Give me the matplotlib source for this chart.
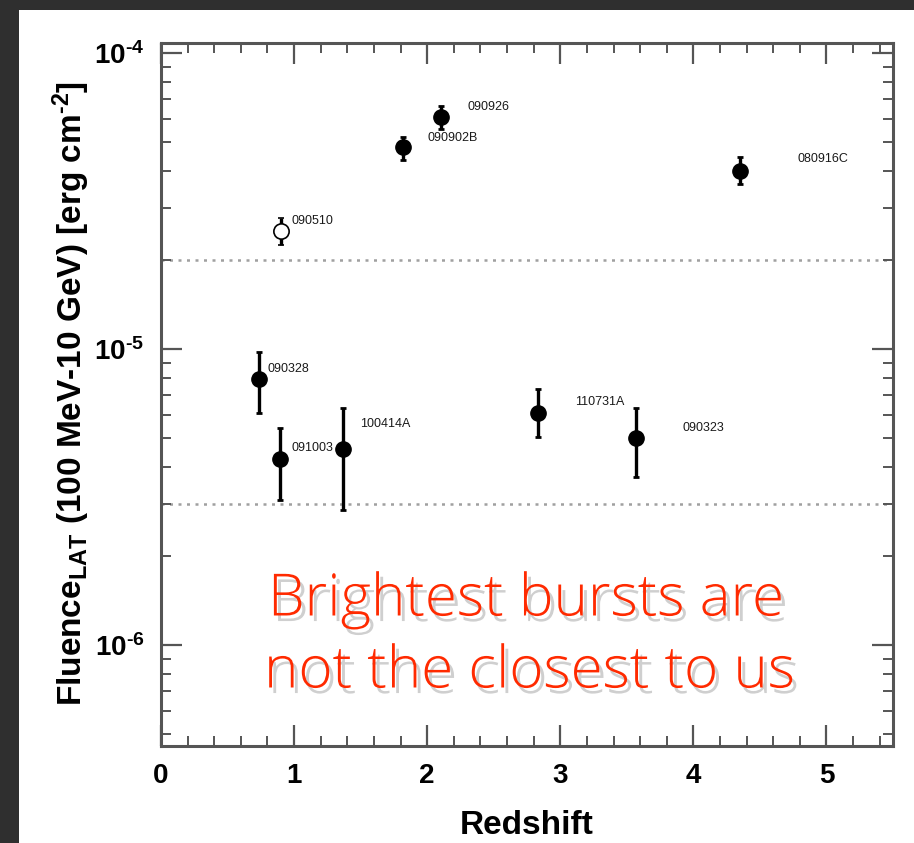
import numpy as np
import matplotlib
matplotlib.use('Agg')
import matplotlib.pyplot as plt
import matplotlib.patheffects as pe
from matplotlib.patches import Rectangle
from matplotlib.ticker import MultipleLocator, LogLocator, NullFormatter

plt.rcParams['font.family'] = ['Liberation Sans', 'DejaVu Sans']
plt.rcParams['font.weight'] = 'bold'
plt.rcParams['mathtext.fontset'] = 'custom'
plt.rcParams['mathtext.rm'] = 'Liberation Sans:bold'
plt.rcParams['mathtext.bf'] = 'Liberation Sans:bold'
plt.rcParams['mathtext.default'] = 'bf'

# GRBs with known redshift: LAT fluence 100 MeV - 10 GeV
grb_names = ['090328', '091003', '100414A', '090902B', '090926',
             '110731A', '090323', '080916C']
redshift = [0.736, 0.897, 1.368, 1.822, 2.106, 2.83, 3.57, 4.35]
fluence = [7.9e-6, 4.25e-6, 4.6e-6, 4.8e-5, 6.1e-5, 6.1e-6, 5.0e-6, 4.0e-5]
fluence_hi = [9.8e-6, 5.4e-6, 6.3e-6, 5.2e-5, 6.6e-5, 7.3e-6, 6.3e-6, 4.45e-5]
fluence_lo = [6.1e-6, 3.1e-6, 2.85e-6, 4.35e-5, 5.55e-5, 5.05e-6, 3.7e-6, 3.6e-5]

# short burst, drawn open
short_name = '090510'
short_z = 0.903
short_fluence = 2.5e-5
short_hi = 2.77e-5
short_lo = 2.25e-5

# label offsets (redshift, factor in fluence)
label_dx = [0.061, 0.087, 0.126, 0.18, 0.20, 0.28, 0.35, 0.43]
label_fy = [1.081, 1.089, 1.215, 1.072, 1.081, 1.089, 1.081, 1.098]

threshold_levels = [2e-5, 3e-6]

fig = plt.figure(figsize=(9.14, 8.43), dpi=100)
fig.patch.set_facecolor('#2f2f2f')
fig.patches.append(Rectangle((19 / 914, 0), 1, 1 - 10 / 843, transform=fig.transFigure,
                             facecolor='white', edgecolor='none', zorder=-5))

ax = fig.add_axes([161 / 914, 97 / 843, 732 / 914, 703 / 843])
ax.set_zorder(2)
ax.set_yscale('log')
ax.set_xlim(0, 5.5)
ax.set_ylim(4.56e-7, 1.081e-4)

for lev in threshold_levels:
    ax.axhline(lev, color='#a0a0a0', linestyle=(0, (1.2, 2.2)), linewidth=1.8, zorder=1)

yerr = [np.array(fluence) - np.array(fluence_lo), np.array(fluence_hi) - np.array(fluence)]
ax.errorbar(redshift, fluence, yerr=yerr, fmt='o', color='black', markersize=11,
            elinewidth=2.4, capsize=2, capthick=2, zorder=3)
ax.errorbar([short_z], [short_fluence], yerr=[[short_fluence - short_lo], [short_hi - short_fluence]],
            fmt='o', color='black', mfc='white', mec='black', mew=1.2, markersize=11,
            elinewidth=2.4, capsize=2, capthick=2, zorder=3)

for name, z, f, dx, fy in zip(grb_names, redshift, fluence, label_dx, label_fy):
    ax.text(z + dx, f * fy, name, fontsize=9, fontweight='normal', va='center', ha='left',
            color='#1a1a1a', zorder=2)
ax.text(short_z + 0.081, short_fluence * 1.081, short_name, fontsize=9, fontweight='normal',
        va='center', ha='left', color='#1a1a1a', zorder=2)

ax.xaxis.set_major_locator(MultipleLocator(1))
ax.xaxis.set_minor_locator(MultipleLocator(0.2))
ax.yaxis.set_minor_locator(LogLocator(base=10, subs=np.arange(2, 10), numticks=20))
ax.yaxis.set_minor_formatter(NullFormatter())
ax.set_yticks([1e-6, 1e-5, 1e-4])
ax.set_yticklabels([r'$10^{\text{-}6}$', r'$10^{\text{-}5}$', r'$10^{\text{-}4}$'])

ax.tick_params(which='both', direction='in', top=True, right=True, color='#555555')
ax.tick_params(which='major', length=15, width=1.6, labelsize=20, pad=12)
ax.tick_params(which='minor', length=7, width=1.4)
for s in ax.spines.values():
    s.set_linewidth(2.2)
    s.set_color('#555555')

ax.set_xlabel('Redshift', fontsize=24, fontweight='bold')
ax.xaxis.set_label_coords(0.5, -0.091)
ax.set_ylabel(r'Fluence$_{LAT}$ (100 MeV-10 GeV) [erg cm$^{\text{-}2}$]', fontsize=24,
              fontweight='bold')
ax.yaxis.set_label_coords(-0.094, 0.502)

shadow = [pe.SimplePatchShadow(offset=(3, -4), shadow_rgbFace='#777777', alpha=0.35), pe.Normal()]
fig.text(268 / 914, 1 - 600 / 843, 'Brightest bursts are', fontsize=42, color='#ff2a00',
         family='Open Sans', fontweight='light', va='center', ha='left', path_effects=shadow,
         zorder=5)
fig.text(264 / 914, 1 - 672 / 843, 'not the closest to us', fontsize=42, color='#ff2a00',
         family='Open Sans', fontweight='light', va='center', ha='left', path_effects=shadow,
         zorder=5)

fig.savefig('out.png', dpi=100, facecolor=fig.get_facecolor())
